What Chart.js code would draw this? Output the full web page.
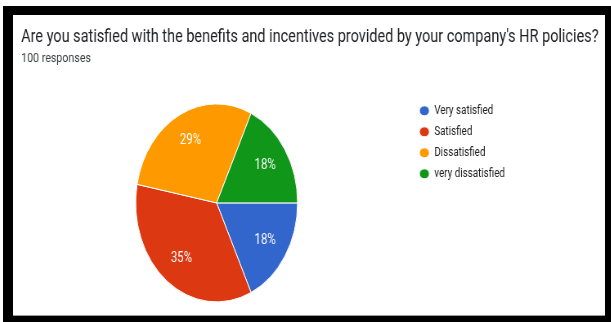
<!DOCTYPE html>
<html>
<head>
<meta charset="utf-8">
<script src="https://cdn.jsdelivr.net/npm/chart.js@4.4.1/dist/chart.umd.min.js"></script>
<style>
  html, body { margin: 0; padding: 0; background: #fff; }
  #frame {
    position: absolute; left: 3px; top: 6px;
    width: 592px; height: 301px;
    border-style: solid; border-color: #000;
    border-width: 9px 6px 6px 10px;
    background: #fff; overflow: hidden;
    box-shadow: inset 0 -1px 0 #9a9a9a;
  }
  #squeeze { position: absolute; left: 0; top: 0; transform: scaleX(0.8177); transform-origin: 0 0; }
</style>
</head>
<body>
<div id="frame"><div id="squeeze"><canvas id="pieChart" width="724" height="301"></canvas></div></div>
<script>
const question = "Are you satisfied with the benefits and incentives provided by your company's HR policies?";
const responseCount = "100 responses";
const categories = ["Very satisfied", "Satisfied", "Dissatisfied", "very dissatisfied"];
const responses = [18, 35, 29, 18];
const sliceColors = ["#3366cc", "#dc3912", "#ff9900", "#109618"];

const FONT = "Roboto";
const LEGEND_LEFT = 488;

// percentage text inside each slice
const sliceLabels = {
  id: "sliceLabels",
  afterDatasetsDraw(chart) {
    const ctx = chart.ctx;
    const meta = chart.getDatasetMeta(0);
    const total = responses.reduce((a, b) => a + b, 0);
    ctx.save();
    ctx.font = "14px " + FONT;
    ctx.fillStyle = "#fff";
    ctx.textAlign = "center";
    ctx.textBaseline = "middle";
    meta.data.forEach((arc, i) => {
      const p = arc.getProps(["x", "y", "startAngle", "endAngle", "outerRadius"], true);
      const mid = (p.startAngle + p.endAngle) / 2;
      const r = p.outerRadius * 0.71;
      const pct = Math.round(responses[i] / total * 100) + "%";
      ctx.fillText(pct, p.x + Math.cos(mid) * r, p.y + Math.sin(mid) * r);
    });
    ctx.restore();
  }
};

// empty box right of the legend, so the legend sits next to the pie
// while the title keeps the full width
const rightGap = {
  id: "rightGap",
  beforeInit(chart) {
    Chart.layouts.addBox(chart, {
      position: "right",
      weight: 2000,
      fullSize: false,
      options: {},
      isHorizontal: () => false,
      update(maxWidth, maxHeight) {
        const legendWidth = chart.legend ? chart.legend.width : 0;
        this.width = Math.max(0, chart.width - LEGEND_LEFT - legendWidth);
        this.height = maxHeight;
      },
      draw() {}
    });
  }
};

const CHART = document.getElementById("pieChart");
let pieChart = new Chart(CHART, {
  type: "pie",
  data: {
    labels: categories,
    datasets: [{
      data: responses,
      backgroundColor: sliceColors,
      borderColor: "#fff",
      borderWidth: 1,
      radius: 99
    }]
  },
  options: {
    responsive: false,
    animation: false,
    events: [],
    rotation: 90,
    layout: { padding: { top: 0, left: 10, right: 0, bottom: 6 } },
    plugins: {
      title: {
        display: true,
        text: question,
        align: "start",
        color: "#202124",
        font: { family: FONT, size: 17.7, weight: "normal" },
        padding: { top: 12, bottom: 3 }
      },
      subtitle: {
        display: true,
        text: responseCount,
        align: "start",
        color: "#3c4043",
        font: { family: FONT, size: 13, weight: "normal" },
        padding: { top: 0, bottom: 29 }
      },
      legend: {
        position: "right",
        align: "start",
        fullSize: false,
        labels: {
          usePointStyle: true,
          pointStyle: "circle",
          pointStyleWidth: 12.2,
          boxHeight: 7.1,
          padding: 9,
          color: "#222",
          font: { family: FONT, size: 12 }
        }
      },
      tooltip: { enabled: false }
    }
  },
  plugins: [sliceLabels, rightGap]
});
</script>
</body>
</html>
